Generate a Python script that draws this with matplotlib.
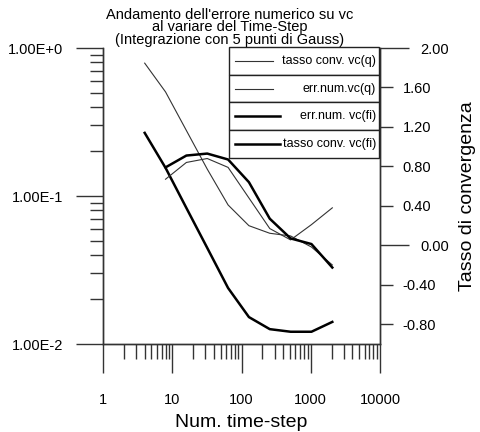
import matplotlib
matplotlib.use("Agg")
import matplotlib.pyplot as plt
from matplotlib.ticker import FixedLocator, FixedFormatter, NullFormatter, LogLocator, FuncFormatter
from matplotlib.patches import Rectangle

plt.rcParams['font.family'] = ['Liberation Sans', 'DejaVu Sans']

# data
steps = [4, 8, 16, 32, 64, 128, 256, 512, 1024, 2048]
err_q = [0.79, 0.505, 0.277, 0.152, 0.087, 0.063, 0.056, 0.0537, 0.0452, 0.0342]
err_fi = [0.267, 0.155, 0.083, 0.0446, 0.0239, 0.0152, 0.0126, 0.0121, 0.0121, 0.0141]
tasso_q = [0.67, 0.84, 0.88, 0.79, 0.48, 0.17, 0.055, 0.21, 0.38]
tasso_fi = [0.79, 0.91, 0.93, 0.87, 0.64, 0.27, 0.07, 0.013, -0.225]

x_ticks = [1, 10, 100, 1000, 10000]
x_tick_labels = ['1', '10', '100', '1000', '10000']
left_ticks = [0.01, 0.1, 1.0]
left_tick_labels = ['1.00E-2', '1.00E-1', '1.00E+0']
right_major = [0.0, 2.0]
right_minor = [-0.8, -0.4, 0.4, 0.8, 1.2, 1.6]

title = "Andamento dell'errore numerico su vc\nal variare del Time-Step\n(Integrazione con 5 punti di Gauss)"
legend_labels = ['tasso conv. vc(q)', 'err.num.vc(q)', 'err.num. vc(fi)', 'tasso conv. vc(fi)']
legend_thick = [False, False, True, True]

thin_c = '#333333'
tick_c = '#333333'

fig = plt.figure(figsize=(4.8, 4.32), dpi=100)
ax = fig.add_axes([103 / 480, 88 / 432, 277 / 480, 296 / 432])
ax.set_xscale('log')
ax.set_yscale('log')
ax.set_xlim(1, 1e4)
ax.set_ylim(1e-2, 1)

ax2 = ax.twinx()
ax2.set_ylim(-1, 2)

ax.plot(steps, err_q, color=thin_c, lw=0.8)
ax.plot(steps, err_fi, color='black', lw=1.8)
ax2.plot(steps[1:], tasso_q, color=thin_c, lw=0.8)
ax2.plot(steps[1:], tasso_fi, color='black', lw=1.8)

for a in (ax, ax2):
    a.spines['top'].set_visible(False)
    for s in a.spines.values():
        s.set_color(tick_c)
        s.set_linewidth(1)

# x axis
ax.xaxis.set_major_locator(FixedLocator(x_ticks))
ax.xaxis.set_major_formatter(FixedFormatter(x_tick_labels))
ax.xaxis.set_minor_locator(LogLocator(base=10, subs=range(2, 10)))
ax.xaxis.set_minor_formatter(NullFormatter())
ax.tick_params(axis='x', which='major', direction='out', length=21, width=1,
               color=tick_c, pad=14, labelsize=10.5)
ax.tick_params(axis='x', which='minor', direction='out', length=10.8, width=1, color=tick_c)

# left log axis
ax.yaxis.set_major_locator(FixedLocator(left_ticks))
ax.yaxis.set_major_formatter(FixedFormatter(left_tick_labels))
ax.yaxis.set_minor_locator(LogLocator(base=10, subs=range(2, 10)))
ax.yaxis.set_minor_formatter(NullFormatter())
ax.tick_params(axis='y', which='major', direction='out', length=19.4, width=1,
               color=tick_c, pad=9.4, labelsize=10.5)
ax.tick_params(axis='y', which='minor', direction='out', length=9.4, width=1, color=tick_c)

# right linear axis
fmt = FuncFormatter(lambda v, p: f"{v:.2f}")
ax2.yaxis.set_major_locator(FixedLocator(right_major))
ax2.yaxis.set_minor_locator(FixedLocator(right_minor))
ax2.yaxis.set_major_formatter(fmt)
ax2.yaxis.set_minor_formatter(fmt)
ax2.tick_params(axis='y', which='major', direction='out', length=21, width=1,
                color=tick_c, pad=8, labelsize=10.5)
ax2.tick_params(axis='y', which='minor', direction='out', length=9.4, width=1,
                color=tick_c, pad=7, labelsize=10.5)

ax.set_xlabel('Num. time-step', fontsize=14, labelpad=5)
ax2.set_ylabel('Tasso di convergenza', fontsize=14, labelpad=7)

fig.text(230 / 480, 1 - 8 / 432, title, ha='center', va='top', fontsize=10.5, linespacing=0.85)

# stacked legend boxes
bx0, bx1 = 0.455, 0.996
btop, bh = 1.003, 0.0935
for i, lab in enumerate(legend_labels):
    yt = btop - i * bh
    ax2.add_patch(Rectangle((bx0, yt - bh), bx1 - bx0, bh, transform=ax2.transAxes,
                            facecolor='white', edgecolor='#222222', lw=1, clip_on=False, zorder=5))
    x_end = 0.639 if legend_thick[i] else 0.614
    ax2.plot([0.4765, x_end], [yt - bh / 2, yt - bh / 2], transform=ax2.transAxes,
             color='black' if legend_thick[i] else thin_c, lw=1.8 if legend_thick[i] else 0.8,
             clip_on=False, zorder=6)
    ax2.text(0.9856, yt - bh / 2, lab, transform=ax2.transAxes, ha='right', va='center',
             fontsize=9, zorder=6)

fig.savefig('out.png', dpi=100)
